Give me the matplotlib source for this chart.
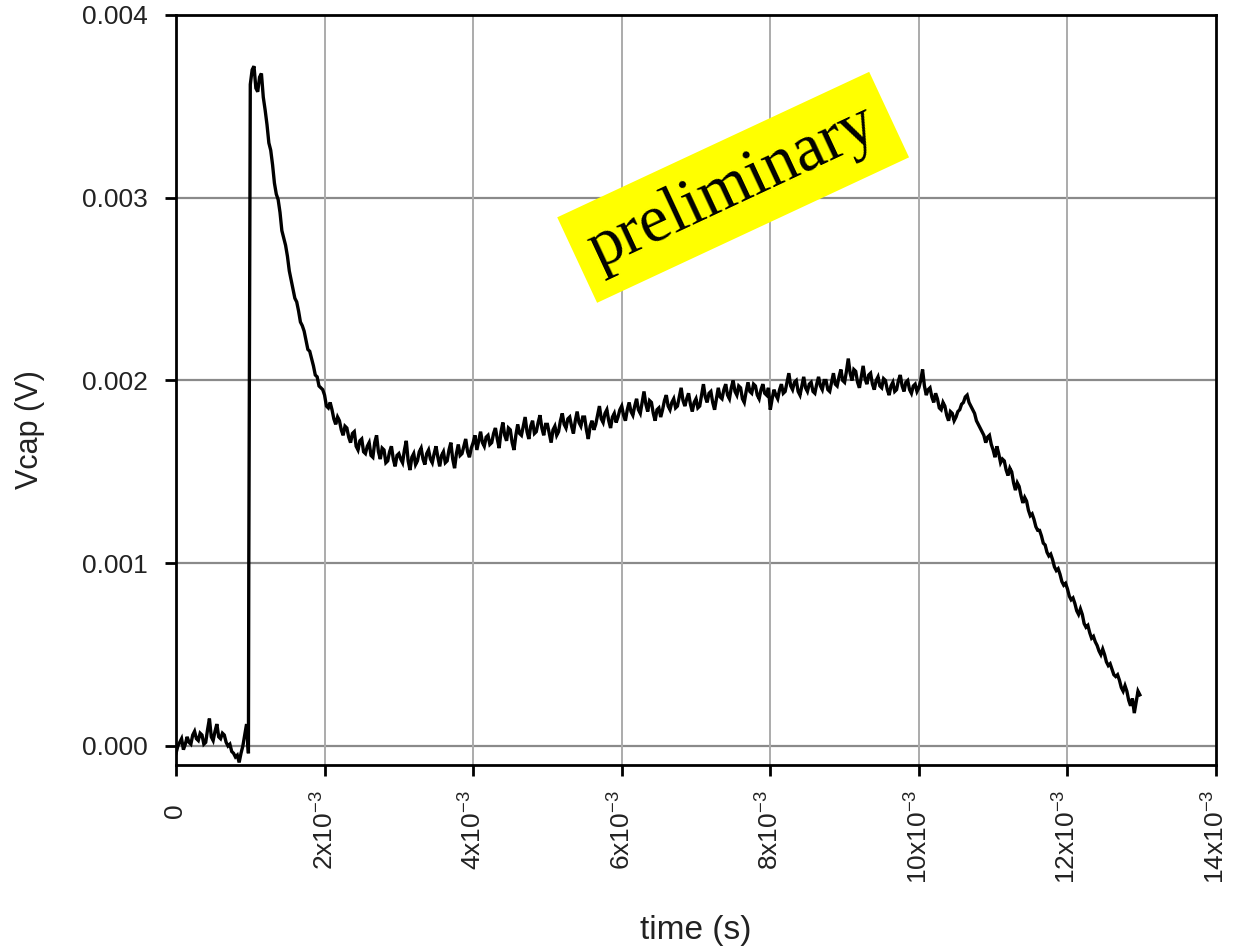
import numpy as np
import matplotlib
matplotlib.use("Agg")
import matplotlib.pyplot as plt

# ---- data (time in ms, voltage in mV; 0.025 ms sampling) ----
v_pre_mV = [-0.04, 0.00, 0.02, 0.04, -0.02, 0.01, 0.05, 0.02, 0.01, 0.06,
            0.08, 0.04, 0.03, 0.07, 0.06, 0.01, 0.02, 0.09, 0.15, 0.05,
            0.03, 0.08, 0.12, 0.05, 0.04, 0.07, 0.06, 0.02, 0.00, 0.01,
            -0.03, -0.04, -0.06, -0.05, -0.09, -0.04, 0.00, 0.06, 0.12]
t_pre_ms = 0.0 + 0.025 * np.arange(len(v_pre_mV))

t_jump_ms = [0.975, 0.98]
v_jump_mV = [-0.04, 1.00]

v_main_mV = [
    # 1.0 - 1.975 ms
    3.62, 3.70, 3.72, 3.60, 3.58, 3.66, 3.68, 3.55, 3.48, 3.40, 3.30, 3.26, 3.18, 3.08, 3.02, 2.99, 2.92, 2.82, 2.78, 2.74,
    2.68, 2.60, 2.55, 2.50, 2.45, 2.43, 2.38, 2.32, 2.30, 2.27, 2.22, 2.17, 2.16, 2.12, 2.08, 2.03, 2.02, 1.97, 1.96, 1.95,
    # 2.0 - 2.975 ms
    1.92, 1.86, 1.85, 1.88, 1.84, 1.79, 1.76, 1.80, 1.78, 1.73, 1.70, 1.75, 1.74, 1.69, 1.66, 1.71, 1.72, 1.64, 1.62, 1.67,
    1.68, 1.61, 1.60, 1.64, 1.66, 1.59, 1.58, 1.66, 1.70, 1.61, 1.57, 1.63, 1.62, 1.55, 1.56, 1.61, 1.64, 1.57, 1.53, 1.59,
    # 3.0 - 3.975 ms
    1.60, 1.57, 1.55, 1.62, 1.67, 1.56, 1.51, 1.58, 1.60, 1.54, 1.56, 1.61, 1.63, 1.57, 1.54, 1.60, 1.62, 1.57, 1.55, 1.60,
    1.64, 1.58, 1.53, 1.59, 1.61, 1.55, 1.56, 1.62, 1.66, 1.57, 1.52, 1.60, 1.65, 1.59, 1.60, 1.64, 1.68, 1.61, 1.58, 1.63,
    # 4.0 - 4.975 ms
    1.66, 1.70, 1.62, 1.67, 1.72, 1.66, 1.64, 1.69, 1.70, 1.65, 1.66, 1.71, 1.74, 1.68, 1.63, 1.72, 1.77, 1.70, 1.67, 1.74,
    1.73, 1.66, 1.62, 1.70, 1.76, 1.71, 1.70, 1.75, 1.80, 1.72, 1.68, 1.75, 1.78, 1.71, 1.72, 1.77, 1.81, 1.74, 1.70, 1.76,
    # 5.0 - 5.975 ms
    1.76, 1.71, 1.66, 1.73, 1.75, 1.70, 1.72, 1.78, 1.82, 1.76, 1.74, 1.79, 1.80, 1.75, 1.71, 1.78, 1.83, 1.77, 1.75, 1.80,
    1.80, 1.73, 1.68, 1.75, 1.78, 1.73, 1.76, 1.81, 1.86, 1.79, 1.77, 1.82, 1.84, 1.78, 1.74, 1.80, 1.82, 1.77, 1.80, 1.84,
    # 6.0 - 6.975 ms
    1.86, 1.81, 1.78, 1.84, 1.88, 1.83, 1.81, 1.86, 1.90, 1.84, 1.82, 1.88, 1.94, 1.87, 1.83, 1.89, 1.88, 1.82, 1.78, 1.84,
    1.85, 1.80, 1.84, 1.89, 1.92, 1.86, 1.84, 1.88, 1.90, 1.85, 1.86, 1.91, 1.96, 1.89, 1.86, 1.90, 1.93, 1.87, 1.83, 1.88,
    # 7.0 - 7.975 ms
    1.90, 1.85, 1.86, 1.92, 1.98, 1.91, 1.88, 1.93, 1.94, 1.88, 1.84, 1.90, 1.96, 1.91, 1.90, 1.95, 1.98, 1.92, 1.90, 1.96,
    2.00, 1.94, 1.92, 1.97, 1.96, 1.90, 1.88, 1.94, 1.99, 1.94, 1.93, 1.98, 1.97, 1.92, 1.90, 1.95, 1.98, 1.93, 1.92, 1.96,
    # 8.0 - 8.975 ms
    1.84, 1.90, 1.95, 1.92, 1.90, 1.95, 1.98, 1.93, 1.94, 1.99, 2.04, 1.97, 1.95, 1.99, 2.00, 1.94, 1.92, 1.97, 2.02, 1.96,
    1.94, 1.98, 1.99, 1.94, 1.93, 1.98, 2.02, 1.97, 1.95, 2.00, 2.00, 1.95, 1.94, 1.99, 2.04, 1.98, 1.97, 2.02, 2.06, 2.00,
    # 9.0 - 9.975 ms
    1.99, 2.05, 2.12, 2.04, 2.00, 2.06, 2.05, 1.99, 1.96, 2.02, 2.08, 2.01, 1.98, 2.03, 2.04, 1.98, 1.95, 2.00, 2.02, 1.97,
    1.96, 2.01, 2.00, 1.95, 1.92, 1.97, 1.99, 1.94, 1.95, 2.00, 2.03, 1.97, 1.94, 1.99, 2.00, 1.95, 1.93, 1.97, 1.98, 1.94,
    # 10.0 - 10.975 ms
    1.96, 2.00, 2.06, 1.97, 1.92, 1.95, 1.96, 1.91, 1.88, 1.93, 1.90, 1.85, 1.84, 1.88, 1.86, 1.81, 1.78, 1.83, 1.82, 1.78,
    1.80, 1.83, 1.84, 1.87, 1.88, 1.91, 1.92, 1.88, 1.86, 1.84, 1.82, 1.78, 1.76, 1.74, 1.72, 1.70, 1.66, 1.69, 1.70, 1.65,
    # 11.0 - 11.975 ms
    1.62, 1.58, 1.64, 1.60, 1.55, 1.57, 1.56, 1.51, 1.48, 1.52, 1.50, 1.44, 1.40, 1.44, 1.42, 1.37, 1.33, 1.36, 1.34, 1.29,
    1.26, 1.27, 1.24, 1.20, 1.18, 1.18, 1.15, 1.11, 1.10, 1.06, 1.04, 1.05, 1.02, 0.98, 0.96, 0.97, 0.94, 0.90, 0.88, 0.89,
    # 12.0 - 12.975 ms
    0.86, 0.82, 0.80, 0.81, 0.78, 0.74, 0.72, 0.75, 0.72, 0.67, 0.65, 0.66, 0.62, 0.59, 0.60, 0.57, 0.55, 0.52, 0.50, 0.53,
    0.50, 0.46, 0.44, 0.45, 0.42, 0.39, 0.38, 0.39, 0.36, 0.32, 0.30, 0.33, 0.30, 0.25, 0.22, 0.26, 0.18, 0.24, 0.30, 0.28,
]
t_main_ms = 1.0 + 0.025 * np.arange(len(v_main_mV))

x_ticks = [0, 2e-3, 4e-3, 6e-3, 8e-3, 10e-3, 12e-3, 14e-3]
x_tick_labels = ["0  ", r"2x10$^{-3}$", r"4x10$^{-3}$", r"6x10$^{-3}$", r"8x10$^{-3}$",
                 r"10x10$^{-3}$", r"12x10$^{-3}$", r"14x10$^{-3}$"]
y_ticks = [0.000, 0.001, 0.002, 0.003, 0.004]
y_tick_labels = ["0.000", "0.001", "0.002", "0.003", "0.004"]

t_s = np.concatenate([t_pre_ms, t_jump_ms, t_main_ms]) * 1e-3
v_V = np.concatenate([v_pre_mV, v_jump_mV, v_main_mV]) * 1e-3

# ---- style ----
plt.rcParams['font.family'] = ['Liberation Sans', 'DejaVu Sans']
plt.rcParams['mathtext.fontset'] = 'custom'
plt.rcParams['mathtext.rm'] = 'Liberation Sans'
plt.rcParams['mathtext.it'] = 'Liberation Sans'
plt.rcParams['mathtext.default'] = 'regular'

fig = plt.figure(figsize=(12.45, 9.5), dpi=100)
ax = fig.add_axes([176/1245, 1-765/950, 1040/1245, 750/950])

ax.plot(t_s, v_V, color='black', lw=2.4, zorder=3, solid_joinstyle='miter')

ax.set_xlim(0, 0.014)
ax.set_ylim(-0.000104, 0.004)

ax.set_xticks(x_ticks)
ax.set_xticklabels(x_tick_labels, rotation=90, va='top', ha='center')
ax.set_yticks(y_ticks)
ax.set_yticklabels(y_tick_labels)

for y in y_ticks[:-1]:
    ax.axhline(y, color='#8a8a8a', lw=1.6, zorder=1)
for x in x_ticks[1:-1]:
    ax.axvline(x, color='#ababab', lw=1.4, zorder=1)

for s in ax.spines.values():
    s.set_linewidth(2.0)
    s.set_color('black')

ax.tick_params(axis='both', direction='out', length=8, width=2, colors='black',
               labelsize=19, labelcolor='#222222', top=False, right=False)
ax.tick_params(axis='y', pad=12)
ax.tick_params(axis='x', pad=10)

ax.set_xlabel("time (s)", fontsize=24, color='#222222')
ax.set_ylabel("Vcap (V)", fontsize=22, color='#222222')
ax.xaxis.set_label_coords(0.5, -0.2)
ax.yaxis.set_label_coords(-0.126, 0.447)
ax.xaxis.label.set_va('top')

ax.text(7.5e-3, 0.003057, "preliminary", family=['Liberation Serif', 'DejaVu Serif'],
        fontsize=48, rotation=25, rotation_mode='anchor', ha='center', va='center',
        color='black', zorder=5,
        bbox=dict(boxstyle='square,pad=0.25', facecolor='#ffff00', edgecolor='none'))

fig.savefig("out.png", dpi=100)
